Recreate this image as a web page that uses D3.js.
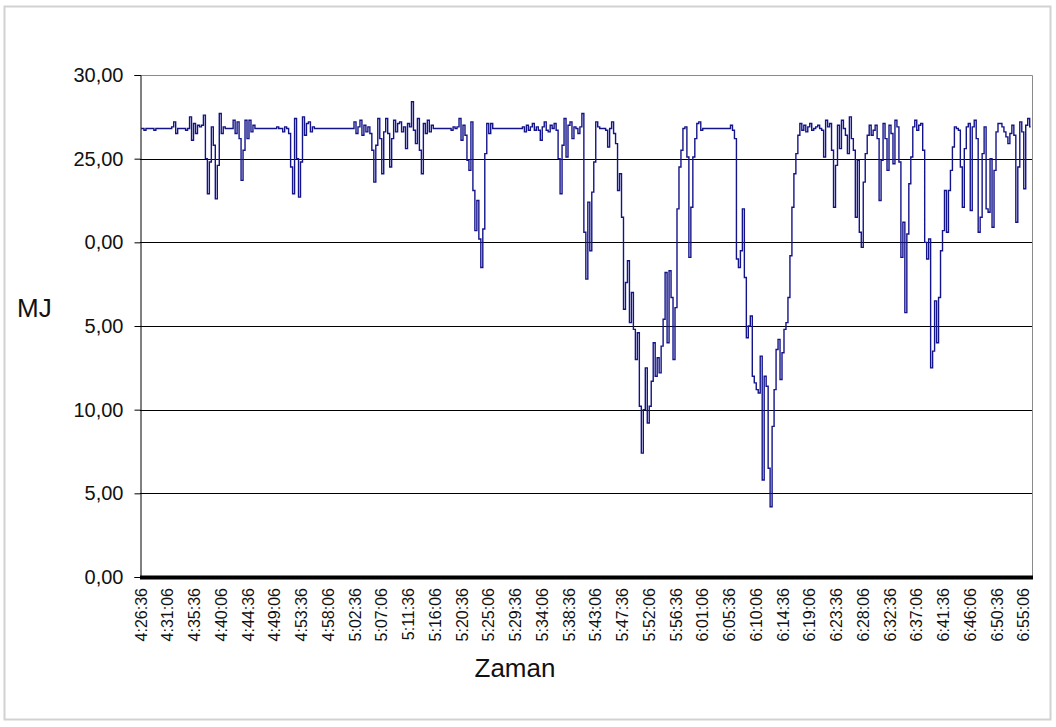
<!DOCTYPE html>
<html>
<head>
<meta charset="utf-8">
<script src="https://cdn.jsdelivr.net/npm/d3@7"></script>
<style>
  body { margin: 0; background: #fff; }
  text { font-family: Arial, "Liberation Sans", sans-serif; fill: #111; }
</style>
</head>
<body>
<svg id="chart"></svg>
<script>
//data: one reading every 20 seconds, starting at 4:26:36
var stepSeconds = 20
var energyMJ = [
  26.8,26.8,26.7,26.8,26.8,26.8,26.8,26.7,26.8,26.8,
  26.8,26.8,26.8,26.8,26.8,26.8,26.9,27.2,26.5,26.8,
  26.8,26.8,26.8,26.7,26.8,27.5,26.1,27.1,26.5,27.0,
  26.9,27.0,27.6,25.0,22.9,24.8,26.9,25.8,22.6,24.6,
  27.7,26.5,26.9,26.8,26.8,26.8,26.8,27.3,26.5,27.2,
  26.2,23.7,25.5,27.3,26.2,27.3,26.6,27.0,26.8,26.8,
  26.8,26.8,26.8,26.8,26.8,26.8,26.8,26.8,26.8,26.9,
  26.8,26.8,26.6,26.9,26.8,26.5,24.5,22.9,27.4,25.0,
  22.7,24.8,27.5,26.4,27.1,27.2,26.6,26.9,26.8,26.8,
  26.8,26.8,26.8,26.8,26.8,26.8,26.8,26.8,26.8,26.8,
  26.8,26.8,26.8,26.8,26.8,26.8,26.8,26.8,27.2,26.5,
  26.9,27.3,26.4,27.0,26.6,26.9,26.5,25.5,23.6,25.8,
  27.4,26.2,24.1,26.6,27.4,26.5,24.5,26.2,27.3,26.6,
  27.1,27.2,26.6,26.9,25.6,27.1,26.9,28.4,26.7,25.9,
  27.4,25.5,24.1,27.1,26.5,27.3,26.6,27.0,26.8,26.8,
  26.8,26.8,26.8,26.8,26.8,26.8,26.8,26.7,26.9,26.8,
  26.9,27.4,26.1,27.0,26.4,24.9,24.3,27.2,23.1,20.7,
  22.5,20.2,18.5,20.8,25.3,27.1,26.5,27.1,26.8,26.8,
  26.8,26.8,26.8,26.8,26.8,26.8,26.8,26.8,26.8,26.8,
  26.8,26.8,26.8,26.9,26.6,27.0,26.7,26.9,27.1,26.7,
  26.9,26.7,26.1,26.9,27.2,26.7,26.6,27.0,26.8,27.1,
  26.7,25.0,22.9,25.8,27.4,25.1,27.0,27.2,26.2,26.9,
  26.8,26.5,26.9,27.7,20.6,17.8,22.4,19.5,23.0,24.8,
  27.2,26.9,26.8,26.8,26.8,26.7,25.7,26.8,27.2,26.5,
  25.9,23.1,24.1,21.5,16.0,17.6,18.9,15.2,17.0,14.8,
  13.0,14.6,10.2,7.4,10.0,12.5,9.2,10.2,11.7,14.0,
  12.0,13.1,12.2,13.8,15.4,18.2,14.0,18.3,16.7,13.0,
  16.1,22.0,24.5,25.5,26.8,26.9,25.1,19.1,22.1,25.1,
  26.2,27.1,27.2,26.7,26.8,26.8,26.8,26.8,26.8,26.8,
  26.8,26.8,26.8,26.8,26.8,26.8,26.8,26.8,27.0,26.7,
  26.2,19.0,18.5,19.5,22.0,17.9,14.3,15.0,15.6,12.0,
  11.6,11.2,11.0,13.2,5.8,12.0,11.4,6.5,4.2,9.0,
  11.2,13.6,14.2,11.8,13.4,14.8,15.2,16.7,19.2,22.1,
  24.1,25.3,26.4,27.1,26.7,27.0,26.6,26.9,27.1,26.7,
  26.8,26.9,27.0,26.8,26.7,25.1,27.3,26.9,27.1,25.5,
  22.1,24.6,27.0,25.6,27.3,26.8,26.4,25.3,27.5,26.2,
  25.5,21.5,24.9,20.6,19.7,23.6,25.3,26.4,27.0,26.4,
  26.7,27.0,26.2,22.5,24.9,27.1,26.2,24.3,27.0,26.5,
  24.7,27.3,26.9,24.8,19.1,21.2,15.8,20.5,23.5,25.1,
  26.9,27.3,26.7,27.0,27.1,25.5,20.0,19.0,20.2,12.5,
  13.5,16.5,14.0,16.7,19.5,20.7,23.1,20.6,23.1,24.3,
  25.7,26.9,26.8,26.7,24.5,22.1,25.6,26.9,27.1,21.9,
  26.9,27.3,26.2,20.6,21.5,25.3,26.9,22.0,21.8,25.0,
  20.9,24.3,26.6,27.1,27.1,26.9,26.6,26.3,25.9,26.5,
  27.0,26.4,21.2,24.5,27.2,26.6,23.2,27.0,27.4,26.9
]

//axis labels
var labelStepSeconds = 270
var timeLabels = ["4:26:36", "4:31:06", "4:35:36", "4:40:06", "4:44:36", "4:49:06", "4:53:36", "4:58:06",
  "5:02:36", "5:07:06", "5:11:36", "5:16:06", "5:20:36", "5:25:06", "5:29:36", "5:34:06", "5:38:36",
  "5:43:06", "5:47:36", "5:52:06", "5:56:36", "6:01:06", "6:05:36", "6:10:06", "6:14:36", "6:19:06",
  "6:23:36", "6:28:06", "6:32:36", "6:37:06", "6:41:36", "6:46:06", "6:50:36", "6:55:06"]
var yTicks = [0, 5, 10, 15, 20, 25, 30]
var yTickLabels = ["0,00", "5,00", "10,00", "5,00", "0,00", "25,00", "30,00"]

var dimensions = {
  width: 1056,
  height: 727,
  margin: {
    top: 75,
    bottom: 150,
    right: 24,
    left: 140
  }
}

var svg = d3.select("#chart")
  .attr("width", dimensions.width)
  .attr("height", dimensions.height)

var plotLeft = dimensions.margin.left
var plotRight = dimensions.width - dimensions.margin.right
var plotTop = dimensions.margin.top
var plotBottom = dimensions.height - dimensions.margin.bottom

var lastLabel = (timeLabels.length - 1) * labelStepSeconds
var xScale = d3.scaleLinear()
  .domain([0, lastLabel])
  .range([plotLeft + 1, 1023.75])

var yScale = d3.scaleLinear()
  .domain([0, 30])
  .range([plotBottom, plotTop])

//outer frame
svg.append("rect")
  .attr("x", 4.5)
  .attr("y", 6.5)
  .attr("width", 1046)
  .attr("height", 713)
  .attr("fill", "#fff")
  .attr("stroke", "#d2d2d2")
  .attr("stroke-width", 2)

//grid lines
svg.append("g")
  .selectAll("line")
  .data(yTicks.filter(d => d > 0 && d < 30))
  .enter()
  .append("line")
    .attr("x1", plotLeft)
    .attr("x2", plotRight)
    .attr("y1", d => Math.round(yScale(d)) + 0.5)
    .attr("y2", d => Math.round(yScale(d)) + 0.5)
    .attr("stroke", "#000")
    .attr("stroke-width", 1)

//plot border top and right
svg.append("path")
  .attr("d", `M${plotLeft},${yScale(30) + 0.5}H${plotRight + 0.5}V${plotBottom}`)
  .attr("fill", "none")
  .attr("stroke", "#8a8a8a")
  .attr("stroke-width", 1)

//y axis
var yAxisGen = d3.axisLeft(yScale)
  .tickValues(yTicks)
  .tickSize(6)
  .tickPadding(11)
  .tickFormat((d, i) => yTickLabels[i])

var yAxis = svg.append("g")
  .attr("transform", `translate(${plotLeft + 0.5},0)`)
  .call(yAxisGen)

yAxis.select(".domain").attr("stroke", "#000")
yAxis.selectAll(".tick line").attr("stroke", "#000")
yAxis.selectAll(".tick text")
  .attr("font-size", 20)
  .attr("font-family", "Arial, 'Liberation Sans', sans-serif")
  .attr("fill", "#1a1a1a")

//series (dense readings drawn as steps, like the original plot)
var line = d3.line()
  .x((d, i) => xScale(i * stepSeconds))
  .y(d => yScale(d))
  .curve(d3.curveStep)

svg.append("path")
  .datum(energyMJ)
  .attr("d", line)
  .attr("fill", "none")
  .attr("stroke", "#14148a")
  .attr("stroke-width", 1.4)

//thick x axis
svg.append("line")
  .attr("x1", plotLeft)
  .attr("x2", plotRight + 1)
  .attr("y1", plotBottom + 0.5)
  .attr("y2", plotBottom + 0.5)
  .attr("stroke", "#000")
  .attr("stroke-width", 4)

//x labels
svg.append("g")
  .selectAll("text")
  .data(timeLabels)
  .enter()
  .append("text")
    .attr("transform", (d, i) => `translate(${xScale(i * labelStepSeconds)},588) rotate(-90)`)
    .attr("text-anchor", "end")
    .attr("dy", "0.35em")
    .attr("font-size", 16)
    .attr("fill", "#1a1a1a")
    .text(d => d)

//titles
svg.append("text")
  .attr("x", 515)
  .attr("y", 677)
  .attr("text-anchor", "middle")
  .attr("font-size", 26)
  .text("Zaman")

svg.append("text")
  .attr("x", 17)
  .attr("y", 317)
  .attr("font-size", 26)
  .text("MJ")
</script>
</body>
</html>
